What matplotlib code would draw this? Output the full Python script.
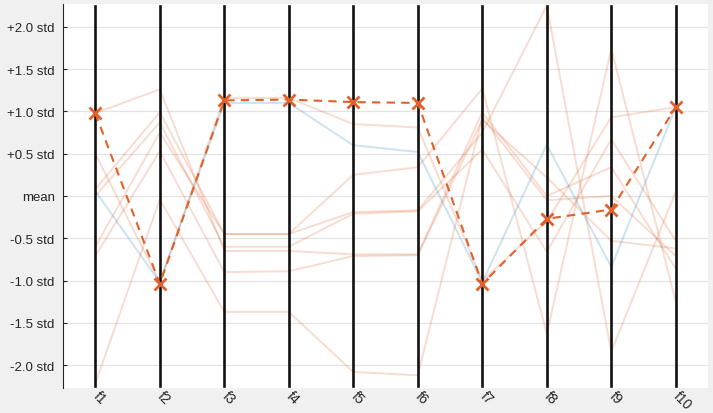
import matplotlib.pyplot as plt

features = ['f1', 'f2', 'f3', 'f4', 'f5', 'f6', 'f7', 'f8', 'f9', 'f10']
y_ticks = [-2.0, -1.5, -1.0, -0.5, 0.0, 0.5, 1.0, 1.5, 2.0]
y_labels = ['-2.0 std', '-1.5 std', '-1.0 std', '-0.5 std', 'mean',
            '+0.5 std', '+1.0 std', '+1.5 std', '+2.0 std']

# faint orange group (values in std units, one list per sample)
orange_lines = [
    [0.98, 1.26, -0.65, -0.65, -0.69, -0.69, 0.99, 0.00, 0.34, -0.86],
    [0.08, 0.99, -0.45, -0.45, -0.19, -0.17, 0.75, 2.25, -1.84, 0.05],
    [0.00, 0.87, -0.60, -0.60, -0.21, -0.18, 0.55, -0.66, 0.67, -0.53],
    [-0.60, 0.75, -0.45, -0.45, 0.25, 0.34, 1.27, -1.63, 1.74, -1.25],
    [-0.71, 0.53, -0.90, -0.89, -0.71, -0.70, 0.90, 0.22, -0.53, -0.62],
    [0.50, -1.02, 1.16, 1.16, 0.85, 0.81, -1.00, -0.30, 0.93, 1.05],
    [-2.22, -0.04, -1.37, -1.37, -2.08, -2.12, 0.93, -0.05, 0.00, -0.71],
]
# faint blue group
blue_lines = [
    [0.06, -1.02, 1.10, 1.10, 0.60, 0.52, -1.02, 0.61, -0.84, 1.05],
]
# highlighted sample
highlight = [0.98, -1.04, 1.13, 1.14, 1.11, 1.10, -1.04, -0.27, -0.16, 1.05]

orange = '#D95319'
blue = '#0072BD'
label_color = '#262626'

plt.rcParams['font.family'] = ['Liberation Sans', 'DejaVu Sans']

fig = plt.figure(figsize=(7.13, 4.14), dpi=100, facecolor='#f0f0f0')
ax = fig.add_axes([0.0884, 0.0604, 0.9046, 0.9276])
ax.set_facecolor('white')

x = list(range(1, len(features) + 1))

for yv in y_ticks:
    ax.axhline(yv, color='#e3e3e3', linewidth=0.9, zorder=0)

for vals in orange_lines:
    ax.plot(x, vals, color=orange, alpha=0.2, linewidth=1.4, zorder=2)
for vals in blue_lines:
    ax.plot(x, vals, color=blue, alpha=0.2, linewidth=1.4, zorder=2)

for xi in x:
    ax.axvline(xi, ymin=0.005, ymax=0.995, color='#111111', linewidth=1.9, zorder=3)

ax.plot(x, highlight, color='#E0612A', linestyle='--', linewidth=1.5,
        dashes=(4, 3), marker='x', markersize=8, markeredgewidth=2, zorder=4)

ax.set_xlim(0.5, 10.5)
ax.set_ylim(-2.27, 2.27)

ax.set_yticks(y_ticks)
ax.set_yticklabels(y_labels, fontsize=9.5, color=label_color)
ax.tick_params(axis='y', direction='in', length=3, width=0.8,
               colors=label_color, pad=6)

ax.set_xticks(x)
ax.set_xticklabels(features, fontsize=10, color=label_color,
                   rotation=-45, ha='left', va='center', rotation_mode='anchor')
ax.tick_params(axis='x', length=0, pad=4)

for side in ['top', 'right', 'bottom']:
    ax.spines[side].set_visible(False)
ax.spines['left'].set_color(label_color)
ax.spines['left'].set_linewidth(0.8)

plt.savefig('out.png', dpi=100, facecolor=fig.get_facecolor())
